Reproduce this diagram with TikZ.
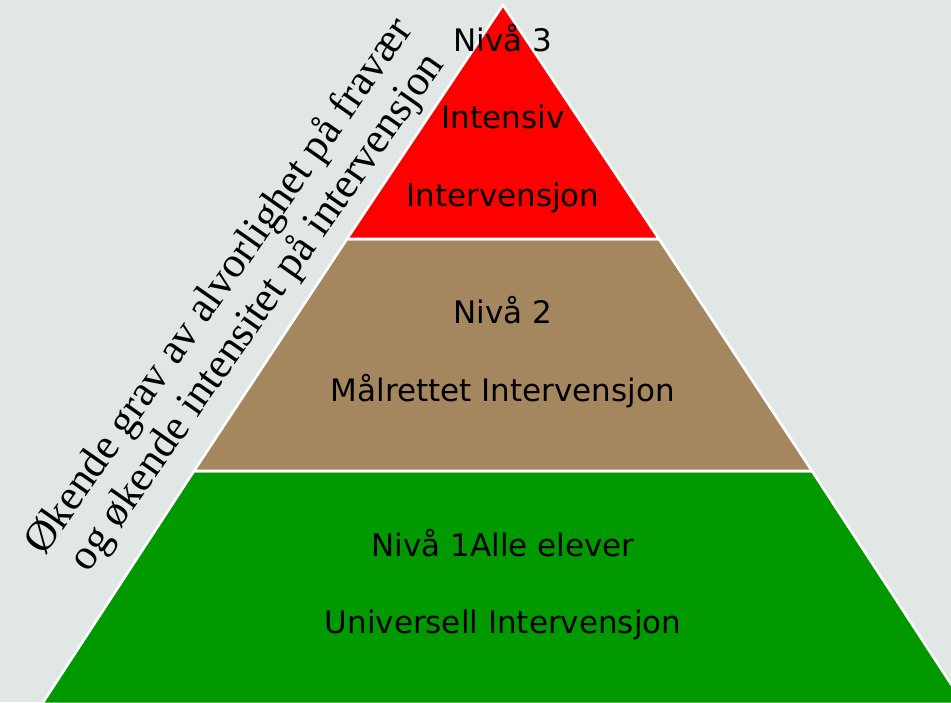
\documentclass[tikz,border=0pt]{standalone}
\usepackage{fontspec}
\setmainfont{DejaVu Sans}
\newfontfamily\serifside{Liberation Serif}
\definecolor{bgc}{HTML}{E1E7E5}
\definecolor{tierred}{HTML}{FF0000}
\definecolor{tiertan}{HTML}{A5875F}
\definecolor{tiergreen}{HTML}{009900}
\begin{document}
\begin{tikzpicture}[x=1pt,y=1pt,
  tier/.style={draw=white,line width=2.6pt,line join=miter},
  lbl/.style={anchor=base,inner sep=0pt,font=\fontsize{31}{31}\selectfont},
  side/.style={anchor=base,inner sep=0pt,rotate=55,font=\serifside\fontsize{43}{43}\selectfont}]
\fill[bgc] (0,0) rectangle (951,702);
\useasboundingbox (0,0) rectangle (951,702);
\begin{scope}
\clip (0,0) rectangle (951,702);
\fill[tiergreen,tier] (42,-2) -- (194,231) -- (812,231) -- (964,-2) -- cycle;
\fill[tiertan,tier] (194,231) -- (347,463) -- (659,463) -- (812,231) -- cycle;
\fill[tierred,tier] (347,463) -- (503,697) -- (659,463) -- cycle;
\end{scope}
\node[lbl] (n3) at (503,650) {Nivå 3};
\node[lbl] (n3a) at (503,573) {Intensiv};
\node[lbl] (n3b) at (503,495) {Intervensjon};
\node[lbl] (n2) at (503,378) {Nivå 2};
\node[lbl] (n2a) at (503,300) {Målrettet Intervensjon};
\node[lbl] (n1) at (503,145) {Nivå 1Alle elever};
\node[lbl] (n1a) at (503,68) {Universell Intervensjon};
\node[side] (s1) at (229,409) {Økende grav av alvorlighet på fravær};
\node[side] (s2) at (267,383) {og økende intensitet på intervensjon};
\end{tikzpicture}
\end{document}
